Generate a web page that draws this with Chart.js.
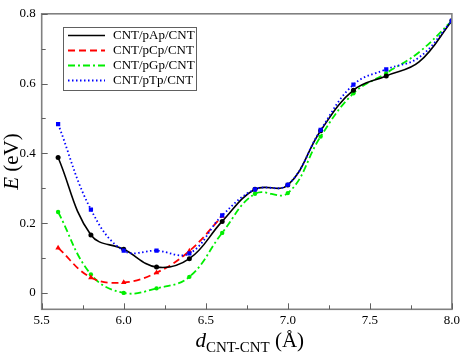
<!DOCTYPE html>
<html><head><meta charset="utf-8">
<script src="https://cdn.jsdelivr.net/npm/chart.js@4/dist/chart.umd.min.js"></script>
<style>html,body{margin:0;padding:0;background:#fff;}#wrap{width:463px;height:355px;position:relative;}
.pre{font-family:"Liberation Serif";position:absolute;left:-999px;top:-999px;}</style>
</head><body><span class="pre">x<i>x</i></span><div id="wrap"><canvas id="c" width="463" height="355"></canvas></div>
<script>
const distances = [5.6, 5.8, 6.0, 6.2, 6.4, 6.6, 6.8, 7.0, 7.2, 7.4, 7.6, 7.8, 8.0];
const pApValues = [0.388, 0.166, 0.125, 0.074, 0.098, 0.205, 0.297, 0.309, 0.465, 0.581, 0.622, 0.662, 0.780];
const pCpValues = [0.129, 0.044, 0.030, 0.058, 0.120, 0.220, null, null, null, null, null, null, null];
const pGpValues = [0.232, 0.053, 0.000, 0.013, 0.046, 0.172, 0.284, 0.286, 0.448, 0.572, 0.630, 0.690, 0.780];
const pTpValues = [0.484, 0.239, 0.121, 0.121, 0.113, 0.222, 0.297, 0.310, 0.467, 0.597, 0.641, 0.675, 0.780];
const seriesNames = ['CNT/pAp/CNT', 'CNT/pCp/CNT', 'CNT/pGp/CNT', 'CNT/pTp/CNT'];
const xTicks = [5.5, 6.0, 6.5, 7.0, 7.5, 8.0];
const yTicks = [0, 0.2, 0.4, 0.6, 0.8];

const SERIF = '"Liberation Serif", "Times New Roman", serif';
function pts(vals){ return distances.map((x,i)=>({x:x, y:vals[i]})); }
function radii(r){ return distances.map(x => Math.abs(x-7.8)<1e-6 ? 0 : r); }

const styles = [
  {color:'#000000', dash:[], width:1.6, pstyle:'circle', r:2.5},
  {color:'#ff0000', dash:[7,4], width:1.8, pstyle:'triangle', r:3.2},
  {color:'#00ee00', dash:[7,3,2,3], width:1.8, pstyle:'circle', r:2.2},
  {color:'#0000ff', dash:[1.5,2.5], width:1.8, pstyle:'rect', r:3}
];
const allVals = [pApValues, pCpValues, pGpValues, pTpValues];
const order = [1, 2, 3, 0];

const datasets = allVals.map((v,i)=>({
  label: seriesNames[i],
  data: pts(v),
  borderColor: styles[i].color,
  backgroundColor: styles[i].color,
  borderWidth: styles[i].width,
  borderDash: styles[i].dash,
  pointStyle: styles[i].pstyle,
  pointRadius: radii(styles[i].r),
  pointBorderWidth: 0,
  pointBackgroundColor: styles[i].color,
  tension: 0.4,
  spanGaps: false,
  fill: false,
  order: order[i]
}));

const framePlugin = {
  id: 'frame',
  afterDatasetsDraw(chart){
    const ctx = chart.ctx, a = chart.chartArea;
    const xs = chart.scales.x, ys = chart.scales.y;
    ctx.save();
    ctx.strokeStyle = '#808080';
    ctx.lineWidth = 1.6;
    ctx.setLineDash([]);
    ctx.strokeRect(a.left, a.top, a.right - a.left, a.bottom - a.top);
    ctx.lineWidth = 1;
    ctx.strokeStyle = '#606060';
    for (let v = 5.5; v <= 8.0001; v += 0.25) {
      const px = Math.round(xs.getPixelForValue(v)) + 0.5;
      const major = Math.abs(v*2 - Math.round(v*2)) < 1e-6;
      const len = major ? 6 : 4;
      ctx.beginPath(); ctx.moveTo(px, a.bottom); ctx.lineTo(px, a.bottom - len); ctx.stroke();
    }
    for (let v = 0; v <= 0.8001; v += 0.1) {
      const py = Math.round(ys.getPixelForValue(v)) + 0.5;
      const major = Math.abs(v*5 - Math.round(v*5)) < 1e-6;
      const len = major ? 6 : 4;
      ctx.beginPath(); ctx.moveTo(a.left, py); ctx.lineTo(a.left + len, py); ctx.stroke();
    }
    // legend
    const bx = 63.5, by = 27.5, bw = 133, bh = 63;
    ctx.fillStyle = '#ffffff';
    ctx.fillRect(bx, by, bw, bh);
    ctx.strokeStyle = '#606060';
    ctx.lineWidth = 1;
    ctx.strokeRect(bx, by, bw, bh);
    const rows = [35.5, 50.5, 65.5, 80.5];
    ctx.font = '13px ' + SERIF;
    ctx.textBaseline = 'middle';
    ctx.textAlign = 'left';
    seriesNames.forEach((n,i)=>{
      ctx.strokeStyle = styles[i].color;
      ctx.lineWidth = styles[i].width;
      ctx.setLineDash(styles[i].dash);
      ctx.beginPath(); ctx.moveTo(68, rows[i]); ctx.lineTo(105, rows[i]); ctx.stroke();
      ctx.setLineDash([]);
      ctx.fillStyle = '#000';
      ctx.fillText(n, 113, rows[i] + 0.5);
    });
    ctx.fillStyle = '#000';
    ctx.textBaseline = 'alphabetic';
    const mainF = '21px ' + SERIF, itF = 'italic 21px ' + SERIF, subF = '15px ' + SERIF;
    const parts = [[itF,'d',0],[subF,'CNT-CNT',5],[mainF,' (\u00C5)',0]];
    let total = 0;
    parts.forEach(p=>{ ctx.font = p[0]; total += ctx.measureText(p[1]).width; });
    let x0 = (a.left + a.right)/2 - total/2 + 3;
    const base = 347;
    parts.forEach(p=>{ ctx.font = p[0]; ctx.fillText(p[1], x0, base + p[2]); x0 += ctx.measureText(p[1]).width; });
    ctx.save();
    ctx.translate(18, (a.top + a.bottom)/2);
    ctx.rotate(-Math.PI/2);
    const yparts = [[itF,'E'],[mainF,' (eV)']];
    let tw = 0;
    yparts.forEach(p=>{ ctx.font = p[0]; tw += ctx.measureText(p[1]).width; });
    let t0 = -tw/2;
    yparts.forEach(p=>{ ctx.font = p[0]; ctx.fillText(p[1], t0, 0); t0 += ctx.measureText(p[1]).width; });
    ctx.restore();
    ctx.restore();
  }
};

function build(){
  new Chart(document.getElementById('c'), {
    type: 'line',
    data: { datasets },
    options: {
      responsive: false,
      animation: false,
      devicePixelRatio: 1,
      layout: { padding: { left: 0, right: 9.7, top: 5.7, bottom: 0 } },
      plugins: { legend: { display: false }, tooltip: { enabled: false } },
      scales: {
        x: {
          type: 'linear', min: 5.5, max: 8.0,
          afterBuildTicks(s){ s.ticks = xTicks.map(v=>({value:v})); },
          afterFit(s){ s.height = 45.7; },
          grid: { display: false, drawTicks: false },
          border: { display: false },
          ticks: { color: '#000', font: { family: SERIF, size: 13 }, padding: 3,
            callback: v => v.toFixed(1), maxRotation: 0 }
        },
        y: {
          type: 'linear', min: -0.047, max: 0.8,
          afterBuildTicks(s){ s.ticks = yTicks.map(v=>({value:v})); },
          afterFit(s){ s.width = 41.7; },
          grid: { display: false, drawTicks: false },
          border: { display: false },
          ticks: { color: '#000', font: { family: SERIF, size: 13 }, padding: 6,
            callback: v => v === 0 ? '0' : v.toFixed(1) }
        }
      }
    },
    plugins: [framePlugin]
  });
}
Promise.all([
  document.fonts.load('13px "Liberation Serif"'),
  document.fonts.load('italic 21px "Liberation Serif"')
]).then(build, build);
</script></body></html>
